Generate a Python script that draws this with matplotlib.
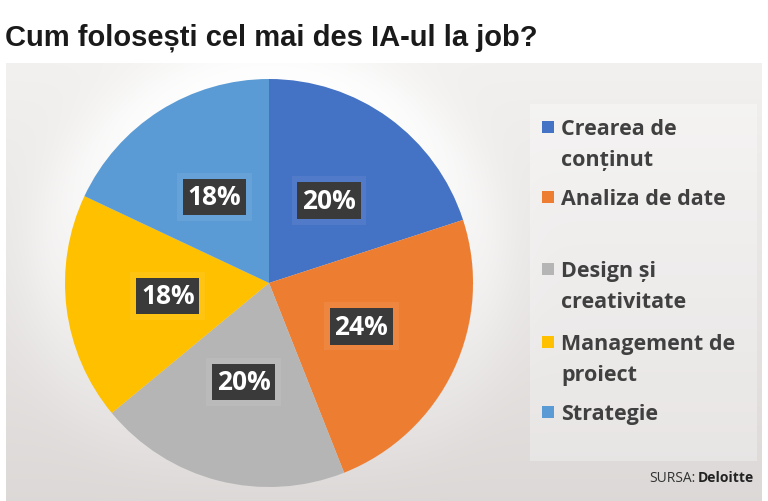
import numpy as np
import matplotlib.pyplot as plt
from matplotlib.patches import Rectangle

plt.rcParams['font.family'] = ['Open Sans', 'DejaVu Sans']

# date
titlu = 'Cum folosești cel mai des IA-ul la job?'
categorii = ['Crearea de\nconținut', 'Analiza de date', 'Design și\ncreativitate',
             'Management de\nproiect', 'Strategie']
procente = [20, 24, 20, 18, 18]
culori = ['#4472C4', '#ED7D31', '#B5B5B5', '#FFC000', '#5B9BD5']
sursa = 'Deloitte'

W, H = 768, 502
fig = plt.figure(figsize=(W / 100, H / 100), dpi=100)
ax = fig.add_axes([0, 0, 1, 1])

# fundal gri cu gradient (coordonate in pixeli, y in sus)
cx, cy, r = 269, H - 284, 204
px, py = np.meshgrid(np.arange(6, 762), np.arange(64, H))
t = (py - 64) / (H - 64)
sus = np.array([0.95, 0.945, 0.94])
jos = np.array([0.865, 0.85, 0.845])
img = sus[None, None, :] * (1 - t[..., None]) + jos[None, None, :] * t[..., None]
d = np.hypot(px - cx, (H - py) - cy) - r
glow = np.exp(-(np.clip(d, 0, None) / 45.0) ** 2) * (d > 0) * (1 - t) * 0.95
img = img + (1 - img) * glow[..., None]
ax.imshow(img, extent=(6, 762, 0, H - 64), origin='upper', zorder=0, interpolation='bilinear')

wedges, texts, autotexts = ax.pie(
    procente, colors=culori, startangle=90, counterclock=False,
    center=(cx, cy), radius=r, autopct=lambda p: f'{p:.0f}%', pctdistance=0.5,
    wedgeprops=dict(linewidth=0),
    textprops=dict(color='white', fontsize=19, fontweight='bold'))
for at in autotexts:
    at.set_bbox(dict(boxstyle='square,pad=0.18', fc='#3a3a3a', ec='none'))
    x, y = at.get_position()
    ax.text(x, y, at.get_text(), fontsize=19, fontweight='bold', color='none',
            ha='center', va='center', zorder=2,
            bbox=dict(boxstyle='square,pad=0.4', fc='white', ec='none', alpha=0.07))
    at.set_zorder(3)

# legenda
ax.add_patch(Rectangle((530, H - 462), 227, 357, fc='white', ec='none', alpha=0.3, zorder=1))
leg_y = [135, 205, 277, 350, 420]
for cat, col, yb in zip(categorii, culori, leg_y):
    ax.add_patch(Rectangle((542, H - yb + 1), 12, 12, fc=col, ec='none', zorder=2))
    for k, linie in enumerate(cat.split('\n')):
        ax.text(561, H - yb - k * 31, linie, fontsize=15.5, fontweight='bold',
                color='#404040', ha='left', va='baseline', zorder=2)

fig.text(5 / W, 1 - 46 / H, titlu, fontsize=21, fontweight='bold', color='#1a1a1a',
         family=['Liberation Sans', 'DejaVu Sans'], va='baseline')
ax.text(696, H - 482, 'SURSA:', fontsize=10, color='#333333', ha='right', va='baseline')
ax.text(698, H - 482, sursa, fontsize=10, fontweight='bold', color='#222222',
        ha='left', va='baseline')

ax.set_xlim(0, W)
ax.set_ylim(0, H)
ax.set_aspect('auto')
ax.axis('off')
fig.savefig('out.png', dpi=100)
